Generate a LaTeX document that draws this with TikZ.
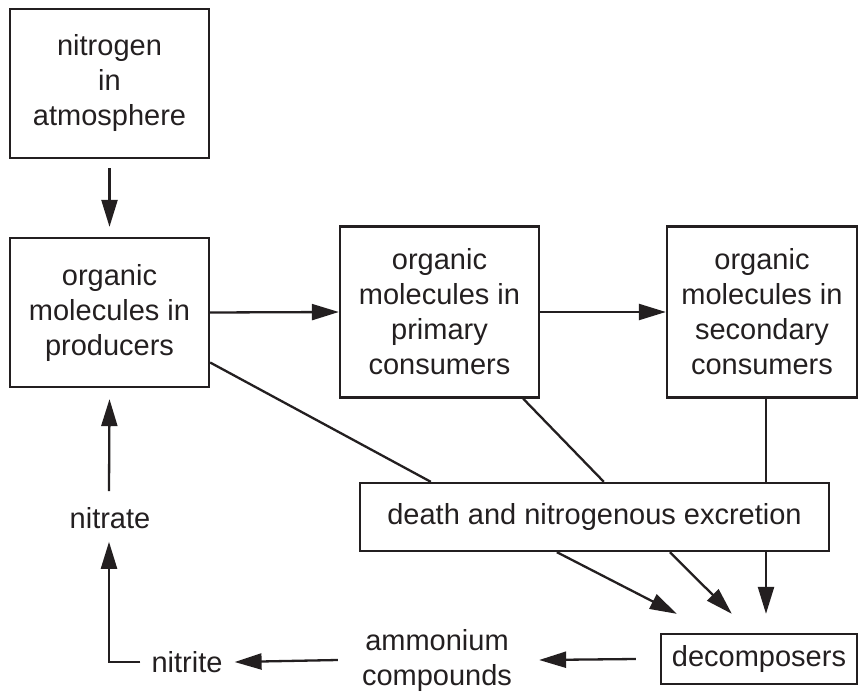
\documentclass[tikz,border=0pt]{standalone}
\usepackage{fontspec}
\setmainfont{Liberation Sans}
\usetikzlibrary{arrows.meta}
\definecolor{ink}{HTML}{231F20}

\begin{document}
\begin{tikzpicture} [x=1pt,y=-1pt,ink,line width=2.3pt,
       box/.style={draw,align=center,inner sep=0pt,font=\fontsize{29}{35}\selectfont},
       lbl/.style={align=center,inner sep=0pt,font=\fontsize{29}{35}\selectfont},
       arr/.style={-{Triangle[length=27pt,width=16pt]}}]
       \useasboundingbox (0,0) rectangle (859,693);
       \node [box,minimum width=199pt,minimum height=149pt] (atmo) at (109.5,83.5) {nitrogen\\in\\atmosphere};
       \node [box,minimum width=199pt,minimum height=149pt] (prod) at (109.5,312.5) {organic\\molecules in\\producers};
       \node [box,minimum width=199pt,minimum height=171pt] (prim) at (439.5,312) {organic\\molecules in\\primary\\consumers};
       \node [box,minimum width=190pt,minimum height=171pt] (sec) at (762,312) {organic\\molecules in\\secondary\\consumers};
       \node [box,minimum width=469pt,minimum height=68pt] (death) at (594.5,517) {death and nitrogenous excretion};
       \node [box,minimum width=196pt,minimum height=50pt] (decomp) at (759,659) {decomposers};
       \node [lbl] (amm) at (437,660) {ammonium\\compounds};
       \node [lbl] (nitrite) at (187,662) {nitrite};
       \node [lbl] (nitrate) at (110,518) {nitrate};
       % food chain
       \draw [arr] ([yshift=-9pt]atmo.south) -- ([yshift=10pt]prod.north);
       \draw [arr] (prod.east) -- (prim.west);
       \draw [arr] (prim.east) -- (sec.west);
       % into death box
       \draw ([yshift=-50pt]prod.east) -- ([xshift=72pt]death.north west);
       \draw ([xshift=-17pt]prim.south east) -- ([xshift=245pt]death.north west);
       \draw ([xshift=4pt]sec.south) -- ([xshift=4pt]sec.south |- death.north);
       % to decomposers
       \draw [arr] ([xshift=198pt]death.south west) -- ([xshift=17pt,yshift=19pt]decomp.north west);
       \draw [arr] ([xshift=311pt]death.south west) -- ([xshift=72pt,yshift=19pt]decomp.north west);
       \draw [arr] ([xshift=4pt]sec.south |- death.south) -- ([xshift=7pt,yshift=19pt]decomp.north);
       % back to producers
       \draw [arr] ([xshift=-24pt]decomp.west) -- ([xshift=26pt]amm.east);
       \draw [arr] ([xshift=-23pt]amm.west) -- ([xshift=11pt]nitrite.east);
       \draw [arr] ([xshift=-10pt]nitrite.west) -| ([xshift=-1pt,yshift=-12pt]nitrate.south);
       \draw [arr] ([xshift=-1pt,yshift=15pt]nitrate.north) -- ([yshift=-11pt]prod.south);
    \end{tikzpicture}
\end{document}
